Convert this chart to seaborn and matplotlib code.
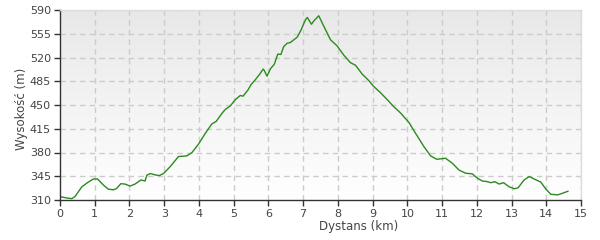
import numpy as np
import pandas as pd
import matplotlib
matplotlib.use("Agg")
import matplotlib.pyplot as plt
import seaborn as sns
from matplotlib.colors import LinearSegmentedColormap

distance_km = [0.0, 0.19, 0.34, 0.43, 0.63, 0.79, 0.96, 1.08, 1.25, 1.39, 1.54, 1.63, 1.75, 1.87,
               2.02, 2.16, 2.33, 2.45, 2.5, 2.6, 2.74, 2.86, 2.98, 3.17, 3.41, 3.65, 3.8, 3.99,
               4.18, 4.37, 4.5, 4.66, 4.76, 4.9, 5.05, 5.19, 5.27, 5.41, 5.5, 5.62, 5.75, 5.85,
               5.88, 5.96, 6.06, 6.17, 6.27, 6.36, 6.44, 6.54, 6.63, 6.83, 6.94, 7.07, 7.12, 7.24,
               7.31, 7.45, 7.6, 7.79, 7.98, 8.17, 8.36, 8.51, 8.7, 8.89, 9.02, 9.23, 9.42, 9.61,
               9.81, 10.05, 10.24, 10.48, 10.67, 10.85, 11.1, 11.3, 11.49, 11.68, 11.87, 12.02,
               12.16, 12.31, 12.4, 12.52, 12.64, 12.77, 12.93, 13.08, 13.19, 13.36, 13.51, 13.67,
               13.84, 13.99, 14.13, 14.33, 14.47, 14.63]
elevation_m = [315, 313, 312, 315, 329.5, 335.5, 341, 341, 332, 326, 325, 327, 334, 333.5,
               330.5, 333.5, 339.5, 338, 346.5, 349, 347, 346, 349, 359, 374, 375, 380, 392.5,
               408, 422, 426, 437.5, 443.5, 448.5, 458, 464, 463, 472, 480, 487, 495.5, 503,
               501, 492.5, 503.5, 510, 525, 524.5, 536, 541, 542, 550, 560.5, 576, 579, 569,
               574, 581.5, 565.5, 546, 537, 523.5, 512.5, 508.5, 495.5, 486, 478, 468, 458, 447.5,
               438, 424, 408, 388.5, 375, 370, 371.5, 364, 354, 349.5, 348.5, 342,
               338, 337, 335.5, 337, 333.5, 335.5, 329.5, 326.5, 328, 339.5, 344.5, 340.5,
               336.5, 326, 318.5, 317.5, 320, 323]

y_ticks = [310, 345, 380, 415, 450, 485, 520, 555, 590]
x_ticks = list(range(0, 16))
x_label = "Dystans (km)"
y_label = "Wysokość (m)"

sns.set_style("white")
plt.rcParams['font.family'] = ['DejaVu Sans']

df = pd.DataFrame({"km": distance_km, "m": elevation_m})

fig = plt.figure(figsize=(6, 2.4), dpi=100)
ax = fig.add_axes([60/600, 40/240, 521/600, 190/240])

# gradient background
cmap = LinearSegmentedColormap.from_list("bg", ["#ffffff", "#e8e8e8"])
grad = np.linspace(0, 1, 256).reshape(-1, 1)
ax.imshow(grad, cmap=cmap, aspect="auto", origin="lower",
          extent=[0, 15, 310, 590], zorder=0)

sns.lineplot(data=df, x="km", y="m", ax=ax, color="#2b8a1e", linewidth=1.0, zorder=3)

ax.set_xlim(0, 15)
ax.set_ylim(310, 590)
ax.set_xticks(x_ticks)
ax.set_yticks(y_ticks)
ax.grid(True, color="#cccccc", linestyle=(0, (4, 3)), linewidth=1.0)
for gl in ax.get_xgridlines() + ax.get_ygridlines():
    gl.set_zorder(1)
# hide grid lines that coincide with the axes frame
ax.get_xgridlines()[0].set_visible(False)
ax.get_ygridlines()[0].set_visible(False)

ax.tick_params(axis="both", direction="out", length=4, width=1, color="#333333",
               labelsize=8, labelcolor="#444444", pad=2.5)
ax.tick_params(left=True, bottom=True)

for s in ["left", "bottom"]:
    ax.spines[s].set_color("#333333")
    ax.spines[s].set_linewidth(1.0)
    ax.spines[s].set_zorder(5)
for s in ["top", "right"]:
    ax.spines[s].set_color("#dddddd")
    ax.spines[s].set_linewidth(1.0)
    ax.spines[s].set_zorder(5)

ax.set_xlabel(x_label, fontsize=8.5, color="#444444")
ax.set_ylabel(y_label, fontsize=8.5, color="#444444")
ax.xaxis.set_label_coords((359 - 60) / 521, -0.107)
ax.yaxis.set_label_coords((28 - 60) / 521, 0.48)

fig.savefig("out.png", dpi=100)
